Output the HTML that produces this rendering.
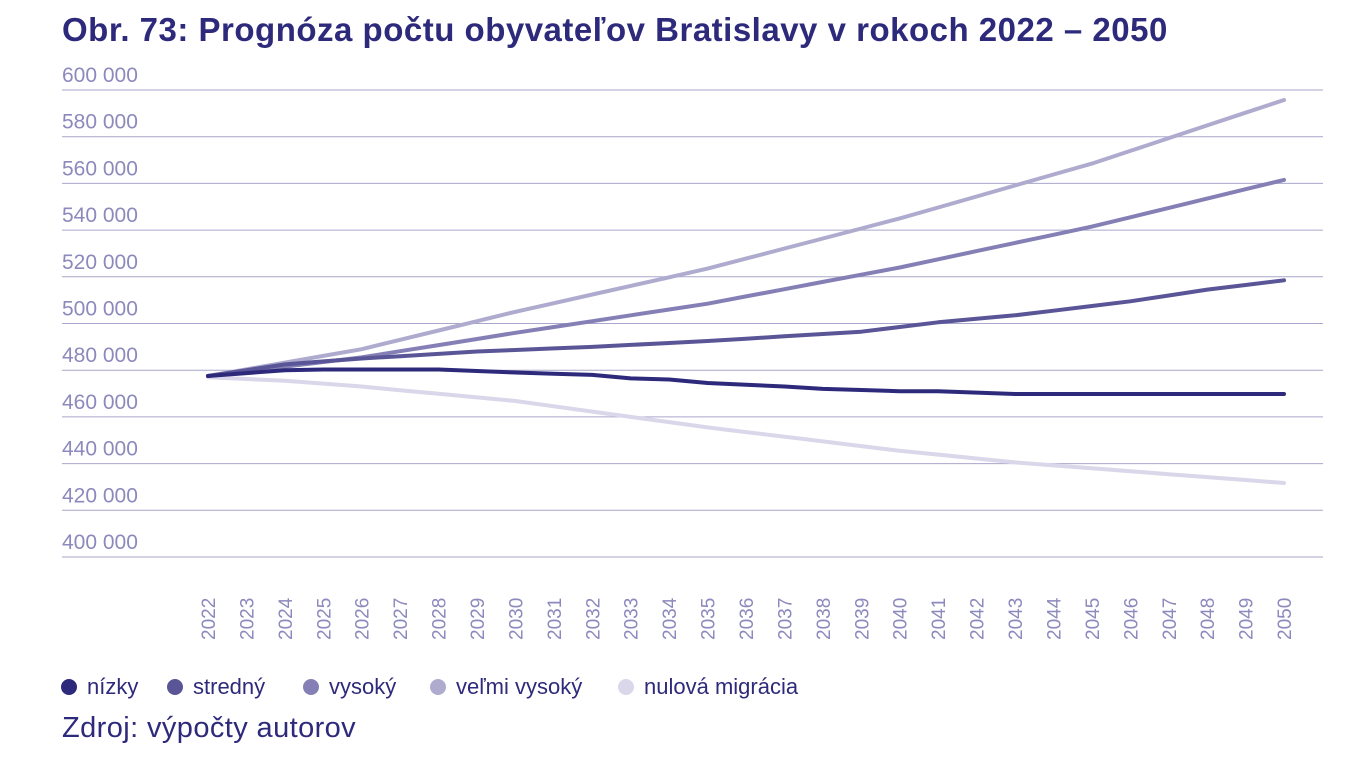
<!DOCTYPE html>
<html><head><meta charset="utf-8"><style>
body{margin:0;background:#fff;width:1357px;height:767px;overflow:hidden;font-family:"Liberation Sans",sans-serif}
.t{position:absolute;left:62px;top:11px;font-size:33px;font-weight:bold;color:#2e2a7b;letter-spacing:0.5px;white-space:nowrap}
.lg span{position:absolute;top:674px;font-size:22px;color:#2e2a7b;display:inline-flex;align-items:center;white-space:nowrap}
.lg i{display:inline-block;width:16px;height:16px;border-radius:50%;margin-right:10px}
.src{position:absolute;left:62px;top:712px;font-size:29px;letter-spacing:0.4px;color:#2e2a7b}
</style></head><body>
<div class="t">Obr. 73: Prognóza počtu obyvateľov Bratislavy v rokoch 2022 – 2050</div>
<svg id="s" width="1357" height="767" style="position:absolute;left:0;top:0"></svg>
<div class="lg"><span style="left:61px"><i style="background:#2e2a7b"></i>nízky</span><span style="left:167px"><i style="background:#5a5597"></i>stredný</span><span style="left:303px"><i style="background:#8480b5"></i>vysoký</span><span style="left:430px"><i style="background:#aeabcf"></i>veľmi vysoký</span><span style="left:618px"><i style="background:#d9d7e9"></i>nulová migrácia</span></div>
<div class="src">Zdroj: výpočty autorov</div>
<script>
var s=document.getElementById('s'),h='';
function Y(v){return 90+(600-v)/20*46.7}
function X(y){return 208+(y-2022)*38.43}
for(var v=400;v<=600;v+=20){var y=Y(v);h+='<line x1="62" x2="1323" y1="'+y+'" y2="'+y+'" stroke="#a9a7cc" stroke-width="1"/>';
h+='<text x="62" y="'+(y-8)+'" font-size="21" fill="#8c89bc" font-family="Liberation Sans">'+v+' 000</text>';}
for(var yr=2022;yr<=2050;yr++){var x=X(yr);h+='<text transform="translate('+(x+7)+',640) rotate(-90)" font-size="19" fill="#8c89bc" font-family="Liberation Sans">'+yr+'</text>';}
function interp(a){var o=[];for(var yr=2022;yr<=2050;yr++){for(var i=0;i<a.length-1;i++){if(yr>=a[i][0]&&yr<=a[i+1][0]){var t=(yr-a[i][0])/(a[i+1][0]-a[i][0]);o.push(a[i][1]+t*(a[i+1][1]-a[i][1]));break;}}}return o}
var S=[
["#d9d7e9",[[2022,477],[2024,475.5],[2026,473],[2030,466.8],[2035,455.5],[2040,445.5],[2043,440.5],[2050,431.7]]],
["#aeabcf",[[2022,477.5],[2026,489],[2030,505],[2035,523.5],[2040,545],[2045,568.5],[2050,595.7]]],
["#8480b5",[[2022,477.5],[2026,485.5],[2030,496],[2035,508.5],[2040,524],[2045,541.5],[2050,561.5]]],
["#5a5597",[[2022,477.5],[2024,482.5],[2026,485],[2029,488],[2032,490],[2035,492.5],[2039,496.5],[2041,500.5],[2043,503.5],[2046,509.5],[2048,514.5],[2050,518.5]]],
["#2e2a7b",[[2022,477.5],[2024,480],[2025,480.3],[2028,480.3],[2030,479],[2032,478],[2033,476.5],[2034,476],[2035,474.5],[2037,473],[2038,472],[2040,471],[2041,471],[2043,469.8],[2050,469.8]]]];
S.forEach(function(q){var d=interp(q[1]),p=d.map(function(v,i){return X(2022+i).toFixed(1)+','+Y(v).toFixed(1)}).join(' ');
h+='<polyline points="'+p+'" fill="none" stroke="'+q[0]+'" stroke-width="4" stroke-linejoin="round" stroke-linecap="round"/>';});
s.innerHTML=h;
</script>
</body></html>
